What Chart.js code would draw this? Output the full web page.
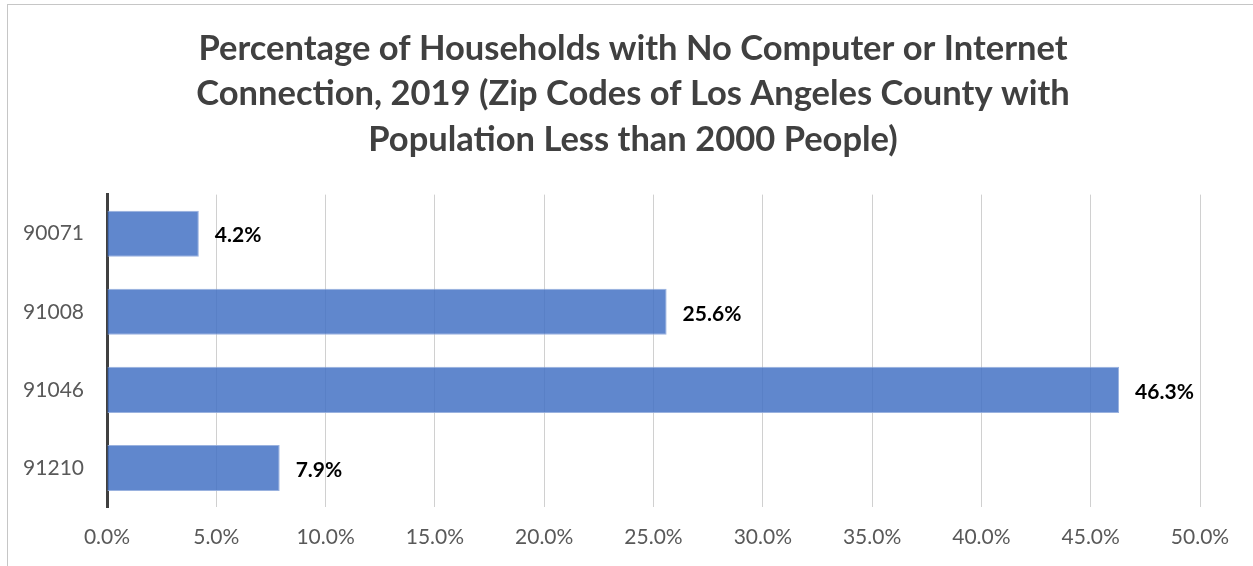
<!DOCTYPE html>
<html>
<head>
<meta charset="utf-8">
<script src="https://cdn.jsdelivr.net/npm/chart.js@4.4.0/dist/chart.umd.min.js"></script>
<style>
  html, body { margin: 0; padding: 0; background: #fff; overflow: hidden; }
  #frame { position: absolute; left: 7px; top: 4px; width: 1300px; height: 620px; border: 1px solid #c6c6c6; }
  #wrap { position: absolute; left: 0; top: 0; width: 1253px; height: 566px; }
</style>
</head>
<body>
<div id="frame"></div>
<div id="wrap"><canvas id="chart" width="1253" height="566"></canvas></div>
<script>
// zip codes and share of households without computer / internet (%)
const zipCodes = ["90071", "91008", "91046", "91210"];
const noInternetPct = [4.2, 25.6, 46.3, 7.9];
const titleLines = [
    "Percentage of Households with No Computer or Internet",
    "Connection, 2019 (Zip Codes of Los Angeles County with",
    "Population Less than 2000 People)"
];
const xMin = 0, xMax = 50, xStep = 5;

// value labels at the end of each bar
const barLabels = {
    id: 'barLabels',
    afterDatasetsDraw(chart) {
        const ctx = chart.ctx;
        const meta = chart.getDatasetMeta(0);
        ctx.save();
        ctx.font = 'bold 21px Lato';
        ctx.fillStyle = '#000';
        ctx.textBaseline = 'middle';
        ctx.textAlign = 'left';
        meta.data.forEach((bar, i) => {
            ctx.fillText(noInternetPct[i].toFixed(1) + '%', bar.x + 16, bar.y + 2);
        });
        ctx.restore();
    }
};

const ctx = document.getElementById('chart').getContext('2d');
const chart = new Chart(ctx, {
    type: 'bar',
    data: {
        labels: zipCodes,
        datasets: [{
            data: noInternetPct,
            backgroundColor: 'rgba(68,114,196,0.85)',
            borderColor: 'rgba(143,170,220,0.9)',
            borderWidth: 1,
            barPercentage: 0.59,
            categoryPercentage: 1.0
        }]
    },
    options: {
        indexAxis: 'y',
        responsive: false,
        animation: false,
        layout: { padding: { left: 22, right: 9, top: 26, bottom: 0 } },
        plugins: {
            legend: { display: false },
            tooltip: { enabled: false },
            title: {
                display: true,
                text: titleLines,
                color: '#404040',
                font: { family: 'Lato', size: 34.5, weight: 'bold', lineHeight: 1.32 },
                padding: { top: 0, bottom: 32 }
            }
        },
        scales: {
            x: {
                min: xMin,
                max: xMax,
                border: { display: false },
                grid: { color: '#d0d0d0', lineWidth: 1, drawTicks: false },
                ticks: {
                    stepSize: xStep,
                    color: '#595959',
                    padding: 18,
                    font: { family: 'Lato', size: 21 },
                    callback: v => v.toFixed(1) + '%'
                },
                afterFit: s => { s.height = 59; }
            },
            y: {
                border: { display: true, color: '#404040', width: 3 },
                grid: { display: false, drawTicks: false },
                ticks: {
                    color: '#595959',
                    padding: 23,
                    font: { family: 'Lato', size: 21 }
                },
                afterFit: s => { s.width = 85; }
            },
            // empty right-hand spacer so the plot ends where the reference does
            yRight: {
                type: 'category',
                position: 'right',
                display: true,
                border: { display: false },
                grid: { display: false, drawTicks: false },
                ticks: { display: false },
                afterFit: s => { s.width = 44; }
            }
        }
    },
    plugins: [barLabels]
});
</script>
</body>
</html>
